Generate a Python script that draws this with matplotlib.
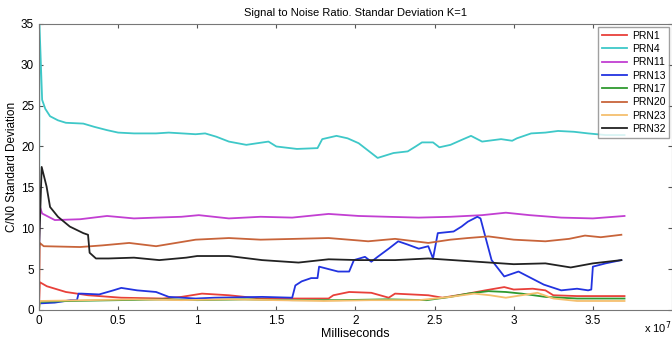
import numpy as np
import matplotlib.pyplot as plt

# values (x in units of 1e7 ms)
prn1_x = [0, 0.005, 0.05, 0.17, 0.31, 0.52, 0.78, 0.9, 1.03, 1.2, 1.4, 1.6, 1.83, 1.86, 1.96, 2.1, 2.21, 2.25, 2.46, 2.55, 2.71, 2.82, 2.94, 3.0, 3.12, 3.2, 3.25, 3.4, 3.7]
prn1_y = [0, 3.4, 2.9, 2.2, 1.8, 1.5, 1.4, 1.6, 2.0, 1.8, 1.4, 1.4, 1.4, 1.8, 2.2, 2.1, 1.5, 2.0, 1.8, 1.5, 2.0, 2.4, 2.8, 2.5, 2.6, 2.4, 1.8, 1.7, 1.7]

prn4_x = [0, 0.003, 0.02, 0.04, 0.07, 0.12, 0.17, 0.28, 0.35, 0.43, 0.5, 0.6, 0.74, 0.82, 0.99, 1.05, 1.12, 1.2, 1.31, 1.38, 1.45, 1.5, 1.63, 1.76, 1.79, 1.88, 1.95, 2.02, 2.08, 2.14, 2.24, 2.33, 2.38, 2.42, 2.49, 2.53, 2.6, 2.67, 2.73, 2.8, 2.92, 2.99, 3.02, 3.11, 3.2, 3.28, 3.38, 3.47, 3.58, 3.7]
prn4_y = [0, 35.0, 25.7, 24.6, 23.7, 23.2, 22.9, 22.8, 22.4, 22.0, 21.7, 21.6, 21.6, 21.7, 21.5, 21.6, 21.2, 20.6, 20.2, 20.4, 20.6, 20.0, 19.7, 19.8, 20.9, 21.3, 21.0, 20.4, 19.5, 18.6, 19.2, 19.4, 20.0, 20.5, 20.5, 19.9, 20.2, 20.8, 21.3, 20.6, 20.9, 20.7, 21.0, 21.6, 21.7, 21.9, 21.8, 21.6, 21.4, 21.4]

prn11_x = [0, 0.003, 0.02, 0.1, 0.26, 0.43, 0.6, 0.74, 0.9, 1.01, 1.2, 1.4, 1.6, 1.83, 2.02, 2.2, 2.4, 2.6, 2.8, 2.95, 3.1, 3.3, 3.5, 3.7]
prn11_y = [0, 12.8, 11.8, 11.0, 11.1, 11.5, 11.2, 11.3, 11.4, 11.6, 11.2, 11.4, 11.3, 11.75, 11.5, 11.4, 11.3, 11.4, 11.6, 11.9, 11.6, 11.3, 11.2, 11.5]

prn13_x = [0, 0.1, 0.2, 0.24, 0.25, 0.27, 0.38, 0.47, 0.52, 0.62, 0.74, 0.82, 0.99, 1.11, 1.41, 1.6, 1.62, 1.66, 1.72, 1.76, 1.77, 1.83, 1.89, 1.96, 1.99, 2.06, 2.1, 2.14, 2.21, 2.27, 2.33, 2.4, 2.46, 2.49, 2.52, 2.62, 2.67, 2.71, 2.77, 2.79, 2.82, 2.86, 2.9, 2.94, 3.03, 3.09, 3.19, 3.3, 3.4, 3.47, 3.49, 3.5, 3.58, 3.68]
prn13_y = [0.8, 0.9, 1.2, 1.2, 2.0, 2.0, 1.9, 2.4, 2.7, 2.4, 2.2, 1.6, 1.4, 1.5, 1.6, 1.5, 3.0, 3.5, 3.9, 3.9, 5.3, 5.0, 4.7, 4.7, 6.1, 6.5, 5.9, 6.5, 7.5, 8.4, 8.0, 7.5, 7.8, 6.3, 9.4, 9.6, 10.2, 10.8, 11.4, 11.2, 9.0, 6.1, 5.1, 4.1, 4.7, 4.1, 3.1, 2.4, 2.6, 2.4, 2.5, 5.3, 5.7, 6.1]

prn17_x = [0, 0.005, 0.2, 0.5, 0.8, 1.0, 1.3, 1.6, 1.9, 2.2, 2.45, 2.6, 2.71, 2.84, 2.95, 3.05, 3.2, 3.4, 3.7]
prn17_y = [0, 1.0, 1.1, 1.2, 1.3, 1.2, 1.3, 1.2, 1.2, 1.3, 1.2, 1.6, 2.0, 2.3, 2.2, 2.0, 1.6, 1.4, 1.4]

prn20_x = [0, 0.005, 0.03, 0.26, 0.4, 0.57, 0.74, 0.99, 1.2, 1.4, 1.62, 1.83, 2.02, 2.08, 2.25, 2.46, 2.6, 2.71, 2.84, 3.0, 3.2, 3.35, 3.45, 3.55, 3.68]
prn20_y = [0, 8.2, 7.8, 7.7, 7.9, 8.2, 7.8, 8.6, 8.8, 8.6, 8.7, 8.8, 8.5, 8.4, 8.7, 8.2, 8.6, 8.8, 9.0, 8.6, 8.4, 8.7, 9.1, 8.9, 9.2]

prn23_x = [0, 0.005, 0.3, 0.6, 0.9, 1.2, 1.5, 1.8, 2.1, 2.4, 2.6, 2.75, 2.85, 2.95, 3.05, 3.15, 3.25, 3.4, 3.7]
prn23_y = [0, 1.1, 1.2, 1.3, 1.2, 1.3, 1.2, 1.1, 1.2, 1.2, 1.6, 2.0, 1.8, 1.5, 1.8, 2.1, 1.4, 1.1, 1.1]

prn32_x = [0, 0.017, 0.048, 0.07, 0.12, 0.195, 0.28, 0.31, 0.32, 0.36, 0.44, 0.6, 0.76, 0.93, 1.0, 1.2, 1.41, 1.64, 1.83, 2.02, 2.25, 2.46, 2.77, 3.0, 3.2, 3.36, 3.5, 3.68]
prn32_y = [7.0, 17.5, 15.1, 12.6, 11.4, 10.2, 9.4, 9.2, 7.0, 6.3, 6.3, 6.4, 6.1, 6.4, 6.6, 6.6, 6.1, 5.8, 6.2, 6.1, 6.1, 6.3, 5.9, 5.6, 5.7, 5.2, 5.7, 6.1]

series = [
    ("PRN1", prn1_x, prn1_y, "#e8403a"),
    ("PRN4", prn4_x, prn4_y, "#3ec8c8"),
    ("PRN11", prn11_x, prn11_y, "#c23fd2"),
    ("PRN13", prn13_x, prn13_y, "#2233e0"),
    ("PRN17", prn17_x, prn17_y, "#2f9a2f"),
    ("PRN20", prn20_x, prn20_y, "#c8643a"),
    ("PRN23", prn23_x, prn23_y, "#f5bf6e"),
    ("PRN32", prn32_x, prn32_y, "#222222"),
]

plt.rcParams['font.family'] = ['Liberation Sans', 'DejaVu Sans']

fig = plt.figure(figsize=(6.72, 3.41), dpi=100)
ax = fig.add_axes([0.058, 0.091, 0.942, 0.839])

for name, x, y, c in series:
    ax.plot(x, y, color=c, lw=1.3, label=name)

ax.set_xlim(0, 4)
ax.set_ylim(0, 35)
ax.set_xticks([0, 0.5, 1, 1.5, 2, 2.5, 3, 3.5])
ax.set_xticklabels(['0', '0.5', '1', '1.5', '2', '2.5', '3', '3.5'])
ax.set_yticks(range(0, 36, 5))
ax.tick_params(direction='in', top=True, right=True, labelsize=8.5, length=3, color='#555555')
for s in ax.spines.values():
    s.set_color('#777777')

ax.set_title("Signal to Noise Ratio. Standar Deviation K=1", fontsize=8, pad=6)
ax.set_xlabel("Milliseconds", fontsize=9, labelpad=1)
ax.set_ylabel("C/N0 Standard Deviation", fontsize=8.5, labelpad=2)
fig.text(0.958, 0.025, "x 10$^7$", fontsize=8)

leg = ax.legend(loc='upper right', fontsize=7.5, frameon=True, fancybox=False,
                borderaxespad=0.3, handlelength=2.4, labelspacing=0.32,
                borderpad=0.35, handletextpad=0.5)
leg.get_frame().set_edgecolor('#888888')

fig.savefig("out.png", dpi=100)
